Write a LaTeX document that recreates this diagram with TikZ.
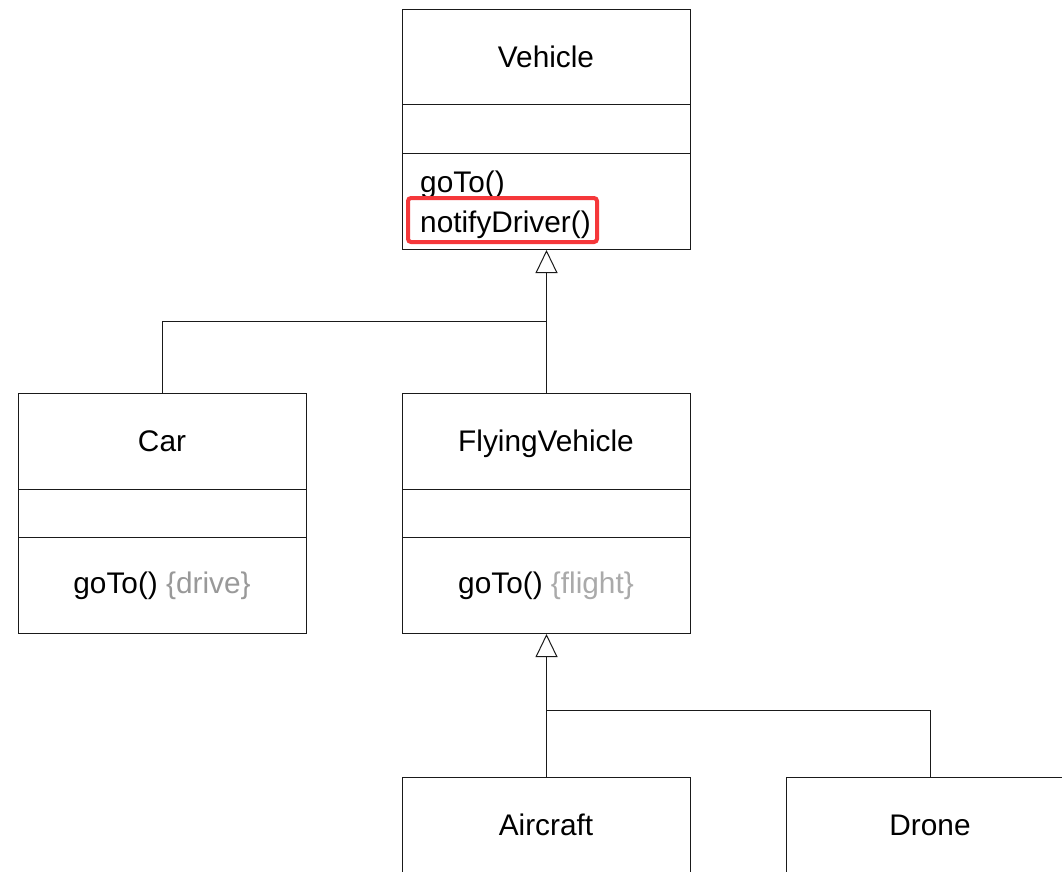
\documentclass[tikz,border=0pt]{standalone}
\usepackage{fontspec}
\setmainfont{Liberation Sans}
\usetikzlibrary{arrows.meta}
\definecolor{edge}{HTML}{1A1A1A}
\definecolor{note}{HTML}{999999}
\definecolor{notelight}{HTML}{AAAAAA}
\definecolor{mark}{HTML}{F5373A}
\tikzset{
  cls/.style={draw=edge, line width=1pt, rectangle, minimum width=288pt,
    minimum height=240pt, anchor=north west, inner sep=0pt, fill=white},
  divider/.style={draw=edge, line width=1pt},
  label/.style={inner sep=0pt, anchor=base, font=\fontsize{29.8}{36}\selectfont},
  member/.style={inner sep=0pt, anchor=base west, font=\fontsize{29.8}{36}\selectfont},
  inherit/.style={draw=edge, line width=1pt,
    -{Triangle[open, width=22pt, length=23pt, line width=1pt]}},
  wire/.style={draw=edge, line width=1pt},
  highlight/.style={draw=mark, line width=4pt, rounded corners=3pt}
}
\begin{document}
\begin{tikzpicture}[x=1pt, y=-1pt]
\useasboundingbox (0,0) rectangle (1062,871);
\clip (0,0) rectangle (1062,871);

% class boxes
\node[cls] (vehicle) at (402,9) {};
\node[cls] (car) at (18,393) {};
\node[cls] (flying) at (402,393) {};
\node[cls] (aircraft) at (402,777) {};
\node[cls] (drone) at (786,777) {};

% compartments
\draw[divider] (402,104) -- (690,104) (402,153) -- (690,153);
\draw[divider] (18,489) -- (306,489) (18,537) -- (306,537);
\draw[divider] (402,489) -- (690,489) (402,537) -- (690,537);

% names
\node[label] (nVehicle) at (546,67) {Vehicle};
\node[label] (nCar) at (162,451) {Car};
\node[label] (nFlying) at (546,451) {FlyingVehicle};
\node[label] (nAircraft) at (546,835) {Aircraft};
\node[label] (nDrone) at (930,835) {Drone};

% operations
\node[member] (opGoto) at (420,192) {goTo()};
\node[member] (opNotify) at (420,232) {notifyDriver()};
\draw[highlight] (408,198) rectangle (597,242);
\node[label] (opCar) at (162,593) {goTo() {\color{note}\{drive\}}};
\node[label] (opFlying) at (546,593) {goTo() {\color{notelight}\{flight\}}};

% generalisations
\coordinate (j1) at (546,321);
\coordinate (j2) at (546,710);
\draw[inherit] (flying.north) -- (vehicle.south);
\draw[wire] (car.north) |- (j1);
\draw[inherit] (aircraft.north) -- (flying.south);
\draw[wire] (drone.north) |- (j2);
\end{tikzpicture}
\end{document}
